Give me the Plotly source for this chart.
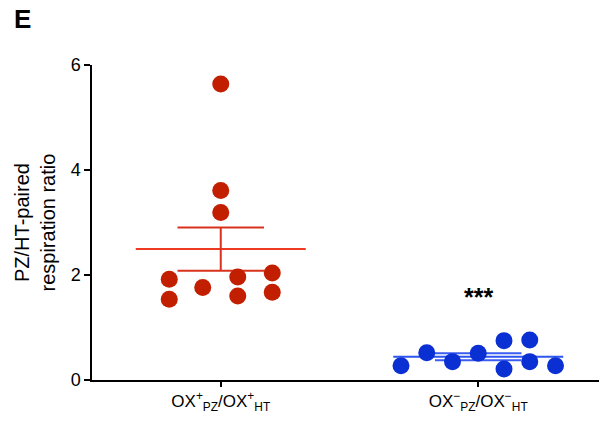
import numpy as np
import plotly.graph_objects as go

categories = ["OX<sup>+</sup><sub>PZ</sub>/OX<sup>+</sup><sub>HT</sub>",
              "OX<sup>\u2212</sup><sub>PZ</sub>/OX<sup>\u2212</sup><sub>HT</sub>"]
ox_plus = [5.64, 3.61, 3.19, 1.92, 1.54, 1.76, 1.96, 1.60, 2.04, 1.67]
ox_plus_jitter = [0.0, 0.0, 0.0, -0.2, -0.2, -0.07, 0.066, 0.066, 0.2, 0.2]
ox_minus = [0.27, 0.52, 0.35, 0.51, 0.75, 0.21, 0.76, 0.35, 0.27]
ox_minus_jitter = [-0.3, -0.2, -0.1, 0.0, 0.1, 0.1, 0.2, 0.2, 0.3]
y_ticks = [0, 2, 4, 6]

groups = [
    (ox_plus, ox_plus_jitter, "#C21F00", "#EE3A22", "#D8321E"),
    (ox_minus, ox_minus_jitter, "#0A2FD2", "#2F55F0", "#3A5CF0"),
]

fig = go.Figure()
for i, (vals, jit, pcol, mcol, ecol) in enumerate(groups):
    v = np.array(vals)
    mean = v.mean()
    sem = v.std(ddof=1) / np.sqrt(len(v))
    fig.add_trace(go.Scatter(x=[i - 0.33, i + 0.33], y=[mean, mean], mode="lines",
                             line=dict(color=mcol, width=2), showlegend=False, hoverinfo="skip"))
    fig.add_trace(go.Scatter(x=[i - 0.168, i + 0.168, None, i, i, None, i - 0.168, i + 0.168],
                             y=[mean + sem, mean + sem, None, mean - sem, mean + sem, None, mean - sem, mean - sem],
                             mode="lines", line=dict(color=ecol, width=2), showlegend=False, hoverinfo="skip"))
    fig.add_trace(go.Scatter(x=[i + j for j in jit], y=vals, mode="markers",
                             marker=dict(color=pcol, size=17, line=dict(width=0)),
                             showlegend=False))

fig.add_annotation(x=1, y=1.58, text="<b>***</b>", showarrow=False,
                   font=dict(size=25, color="black"), xref="x", yref="y")
fig.add_annotation(x=-0.155, y=1.146, xref="paper", yref="paper", text="<b>E</b>",
                   showarrow=False, font=dict(size=26, color="black"), xanchor="left", yanchor="middle")
fig.add_annotation(x=-0.1107, y=0.5, xref="paper", yref="paper",
                   text="PZ/HT-paired<br>respiration ratio", textangle=-90,
                   showarrow=False, font=dict(size=20, color="black"),
                   xanchor="center", yanchor="middle")

font_family = "Liberation Sans, Arial, sans-serif"
fig.update_layout(
    width=607, height=423,
    margin=dict(l=84, r=8, t=57, b=51, autoexpand=False),
    paper_bgcolor="white", plot_bgcolor="white",
    font=dict(family=font_family, color="black"),
)
fig.update_xaxes(range=[-0.5, 1.5], tickvals=[0, 1], ticktext=categories,
                 showline=True, linecolor="black", linewidth=1.5,
                 ticks="outside", ticklen=5, tickwidth=1.5, tickcolor="black",
                 showgrid=False, zeroline=False, tickfont=dict(size=17), automargin=False)
fig.update_yaxes(range=[0, 6], tickvals=y_ticks,
                 showline=True, linecolor="black", linewidth=1.5,
                 ticks="outside", ticklen=6, tickwidth=1.5, tickcolor="black",
                 showgrid=False, zeroline=False, tickfont=dict(size=18), automargin=False)

fig.write_html("out.html")
